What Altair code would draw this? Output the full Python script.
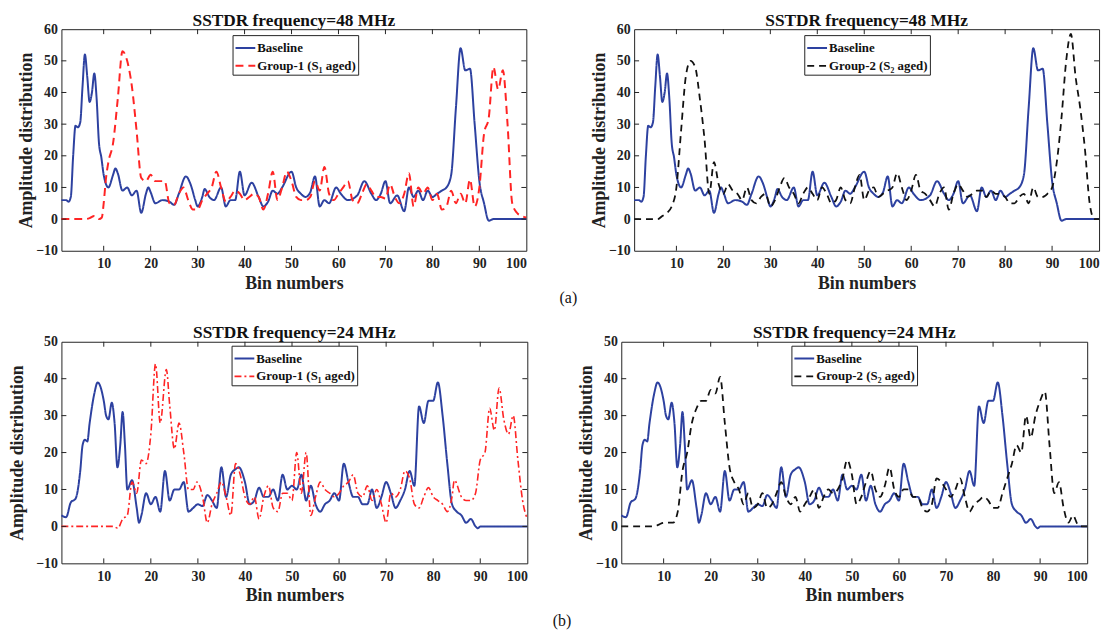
import altair as alt
import pandas as pd

FONT = "Liberation Serif, Times New Roman, serif"
BLUE = "#2d41a0"
RED = "#ff2424"
BLACK = "#111111"

# ---------------- data (bin, amplitude) ----------------
base_48 = [(1, 6), (2, 6), (2.5, 5.5), (3, 7), (3.5, 20), (4, 29.5), (4.5, 29), (5, 30.5), (5.5, 42),
           (6, 52), (6.5, 45), (7, 37), (7.5, 40), (8, 46), (8.5, 38), (9, 24), (9.5, 19.5), (10, 14),
           (11, 10), (12, 14), (12.5, 16), (13, 14.5), (14, 9), (15, 10), (16, 7.5), (17, 9), (18, 2),
           (19, 8), (19.5, 10), (20, 8.5), (21, 5), (22.5, 6), (24, 5.5), (25, 4.5), (26, 8), (27.5, 13.5),
           (28.5, 11), (29.5, 6), (30, 4), (31, 7), (31.5, 9.5), (32.5, 7), (33.5, 6), (35, 10), (36, 4),
           (37, 6), (38, 6), (39, 15), (40, 7.5), (41.5, 11.5), (43, 7), (44, 4), (45, 5.5), (46, 9),
           (47, 8), (48, 10), (50, 15), (51, 10), (52, 8), (53, 7), (54, 8.5), (55, 13.5), (56, 4),
           (57, 6), (58, 5), (59.5, 10), (60.5, 8), (62, 6), (64, 7.5), (65.5, 12), (67, 8), (68, 6),
           (69, 8), (70, 12), (71, 5), (72.5, 7.5), (74, 2.5), (75, 10), (76, 7), (77, 9), (78, 6),
           (79, 9), (80, 7), (81, 8), (82, 9), (83, 10), (84, 14), (85, 35), (86, 54), (87, 47),
           (88, 47.5), (89, 30), (90, 12), (91, 5), (92, -0.5), (93, 0), (100, 0)]

group1_48 = [(1, 0), (6, 0), (7, 0.3), (8, 1), (9, 0), (9.6, 0.5), (10, 5), (10.5, 13), (11, 18), (12, 24),
             (13, 38), (14, 53), (15, 50), (16, 42), (17, 28), (18, 13), (19, 12), (20, 14), (21, 12),
             (22, 12), (23, 12), (24, 5), (25, 4.5), (26, 8), (27, 10), (28, 6), (29, 3), (30, 3), (31, 6),
             (32, 8), (33, 10), (34, 15), (35, 10), (36, 5.5), (37, 7), (38, 9), (39, 8), (40, 6), (41, 7),
             (42, 8), (43, 7), (44, 3), (45, 8), (46, 15), (47, 6), (48, 10), (49, 15), (50, 12), (51, 7),
             (52, 6), (53, 6), (54, 7), (55, 12), (56, 9), (57, 16.5), (58, 8), (59, 6), (60, 8), (61, 10),
             (62, 12), (63, 6), (64, 5), (65, 8), (66, 11), (67, 9), (68, 7), (69, 7), (70, 6.5), (71, 11),
             (72, 7), (73, 5), (74, 8), (75, 14.5), (76, 4), (77, 10), (78, 8), (79, 10), (80, 6), (81, 8),
             (82, 3), (83, 4), (84, 9), (85, 5), (86, 8), (87, 5), (88, 12.5), (89, 4), (90, 10), (91, 27),
             (92, 32), (93, 48), (94, 41), (95, 47), (96, 30), (97, 5), (98, 2), (99, 1), (100, 0.5)]

group2_48 = [(1, 0), (6, 0), (7, 1), (8, 2), (9, 4), (10, 10), (11, 28), (12, 45), (13, 50), (14, 48),
             (15, 38), (16, 25), (17, 8), (18, 18), (19, 11), (20, 8), (21, 11), (22, 9), (23, 8), (24, 6),
             (25, 10), (26, 6), (27, 5), (28, 7), (29, 8), (30, 4), (31, 6), (32, 10), (33, 13), (34, 10),
             (35, 8), (36, 5), (37, 8), (38, 10), (39, 8), (40, 6), (41, 10), (42, 8), (43, 5), (44, 6),
             (45, 10), (46, 6), (47, 5), (48, 10), (49, 14), (50, 6), (51, 9), (52, 10), (53, 7), (54, 8),
             (55, 9), (56, 10), (57, 14.5), (58, 10), (59, 6), (60, 9), (61, 14), (62, 9), (63, 8), (64, 6),
             (65, 4), (66, 8), (67, 10), (68, 3), (69, 8), (70, 11), (71, 9), (72, 7), (73, 8), (74, 9),
             (75, 9), (76, 7), (77, 9), (78, 8), (79, 8), (80, 7), (81, 5), (82, 5), (83, 7), (84, 8),
             (85, 5), (86, 10), (87, 7), (88, 7), (89, 8), (90, 10), (91, 18), (92, 32), (93, 50),
             (94, 58.5), (95, 45), (96, 35), (97, 22), (98, 5), (99, 0), (100, 0)]

base_24 = [(1, 3), (2, 2.5), (3, 6.5), (4, 7.5), (5, 15), (5.5, 22), (6, 23.5), (6.5, 23), (7, 28), (8, 36),
           (8.7, 39), (10, 34), (10.5, 30), (11, 29), (11.7, 33.5), (12.3, 28), (12.9, 16), (13.5, 22),
           (14, 31), (14.5, 22), (15, 10), (16, 12.5), (17, 5), (17.5, 1), (18, 3), (19, 9), (20, 6),
           (21, 8), (22, 4), (23, 15), (24, 7), (25, 10), (26, 10), (27, 12), (28, 4), (29, 5), (30, 6),
           (31, 5.5), (32, 8.5), (33, 7), (34, 5), (35, 16), (36, 8), (37, 14), (38, 15.5), (38.7, 16),
           (40, 12), (41, 6), (42, 7), (43, 10.5), (44, 8), (45, 8), (46, 10), (47, 7), (48, 14), (49, 10),
           (50, 11), (51, 10), (52, 14), (53, 7), (54, 11), (55, 6), (56, 4), (57, 6), (58, 7), (59, 9),
           (60, 7), (61, 17), (62, 12), (63, 8), (64, 8), (65, 6), (66, 6), (67, 10), (68, 5), (69, 8),
           (70, 12), (71, 9), (72, 5), (73, 7), (74, 10), (75, 15), (76, 11), (77, 32.5), (78, 28),
           (79, 34), (80, 34), (81, 39), (82, 30), (83, 17), (84, 6), (85, 4), (86, 3), (87, 1), (88, 2),
           (89, 0), (89.5, -0.5), (90, 0), (100, 0)]

group1_24 = [(1, 0), (12, 0), (13, -0.5), (14, 2), (15, 3), (16, 12), (17, 9), (18, 18), (19, 17), (20, 25),
             (21, 44), (22, 28), (23.3, 42.5), (24, 33), (25, 21), (26, 28), (27, 20), (28, 10), (29, 10),
             (29.8, 12), (31, 8), (32, 1), (33, 6), (34, 9), (35, 12), (36, 8), (37, 3), (38, 17), (39, 14),
             (40, 8), (41, 6), (42, 8), (43, 2), (44, 8), (45, 11), (46, 5), (47, 4), (48, 9), (49, 9),
             (50, 7), (51, 20), (52, 9), (53, 20), (54, 3), (55, 8), (56, 12), (57, 10), (58, 9), (59, 8),
             (60, 9), (61, 11), (62, 12), (63, 14), (64, 9), (65, 8), (66, 11), (67, 7), (68, 10), (69, 6),
             (70, 1), (71, 9), (72, 8), (73, 10), (74, 15), (75, 13), (76, 6), (77, 5), (78, 8), (79, 10.5),
             (80, 8), (81, 7), (82, 6), (83, 4), (84, 8), (84.5, 12.5), (86, 8), (87, 7), (88, 7), (89, 9),
             (90, 18), (91, 20), (92, 32), (93, 26), (94, 37.5), (95, 29), (96, 25), (97, 30), (98, 18),
             (99, 7), (100, 2)]

group2_24 = [(1, 0), (8, 0), (9, 0.5), (10, 1), (11, 1), (12, 1), (13, 4), (14, 15), (15, 20), (16, 28),
             (17, 32), (18, 34), (19, 34), (20, 37), (21, 36), (22, 40.5), (23, 28), (24, 16), (25, 12),
             (26, 10), (27, 6), (28, 9), (29, 5), (30, 6), (31, 9), (32, 5), (33, 6), (34, 9), (35, 12),
             (36, 8), (37, 6), (38, 8), (39, 4), (40, 6), (41, 8), (42, 10), (43, 5), (44, 8), (45, 10),
             (46, 9), (47, 10), (48, 13), (49, 18), (50, 14), (51, 6), (52, 8), (53, 12), (54, 15), (55, 10),
             (56, 8), (57, 11), (58, 16), (59, 10), (60, 8), (61, 10), (62, 10), (63, 8), (64, 8), (65, 5),
             (66, 4), (67, 6), (68, 13), (69, 12), (70, 10), (71, 8), (72, 10), (73, 13), (74, 8), (75, 4),
             (76, 6), (77, 7), (78, 8), (79, 7), (80, 5), (81, 5), (82, 9), (83, 13), (84, 17), (85, 22),
             (86, 20), (87, 30), (88, 24), (89, 30), (90, 34), (91, 36.5), (92, 22), (93, 9), (94, 12),
             (95, 5), (96, 1), (97, 3), (98, 0.5), (99, 0), (100, 0)]

x_ticks = [10, 20, 30, 40, 50, 60, 70, 80, 90, 100]
G1 = "Group-1 (S\u2081 aged)"
G2 = "Group-2 (S\u2082 aged)"

H = 224


def to_df(pairs, name):
    return pd.DataFrame({"bin": [p[0] for p in pairs], "amp": [p[1] for p in pairs], "series": name})


def panel(title, base, other, other_name, other_color, other_dash, other_width, ymax, width,
          legend_x, legend_y, ytitle_pad):
    df = pd.concat([to_df(base, "Baseline"), to_df(other, other_name)], ignore_index=True)
    domain = ["Baseline", other_name]
    y_ticks = list(range(-10, ymax + 1, 10))
    xs = alt.Scale(domain=[1, 100], nice=False, zero=False)
    ys = alt.Scale(domain=[-10, ymax], nice=False, zero=False)
    x_axis = alt.Axis(values=x_ticks, title="Bin numbers", labelPadding=6, titlePadding=4)
    y_axis = alt.Axis(values=y_ticks, title="Amplitude distribution", labelPadding=4,
                      titlePadding=ytitle_pad)
    legend = alt.Legend(orient="none", legendX=legend_x, legendY=legend_y, direction="vertical",
                        symbolType="stroke", symbolSize=400, symbolStrokeWidth=2,
                        labelFont=FONT, labelFontSize=13, labelFontWeight="bold", labelColor="#111",
                        fillColor="white", strokeColor="#222", padding=2, rowPadding=0,
                        labelOffset=1, offset=0)
    lines = alt.Chart(df).mark_line(interpolate="monotone").encode(
        x=alt.X("bin:Q", scale=xs, axis=x_axis),
        y=alt.Y("amp:Q", scale=ys, axis=y_axis),
        color=alt.Color("series:N", scale=alt.Scale(domain=domain, range=[BLUE, other_color]),
                        legend=legend, title=None),
        strokeDash=alt.StrokeDash("series:N", scale=alt.Scale(domain=domain, range=[[1, 0], other_dash]),
                                  legend=legend, title=None),
        strokeWidth=alt.StrokeWidth("series:N", scale=alt.Scale(domain=domain, range=[2, other_width]),
                                    legend=None),
    )
    inner_x = [t for t in x_ticks if t < 100]
    inner_y = [t for t in y_ticks if -10 < t < ymax]
    tx = pd.DataFrame({"bin": inner_x})
    ty = pd.DataFrame({"amp": inner_y})
    tick_b = alt.Chart(tx).mark_rule(color="#222", strokeWidth=1).encode(
        x=alt.X("bin:Q", scale=xs, axis=x_axis), y=alt.value(H), y2=alt.value(H - 5))
    tick_t = alt.Chart(tx).mark_rule(color="#222", strokeWidth=1).encode(
        x=alt.X("bin:Q", scale=xs, axis=x_axis), y=alt.value(0), y2=alt.value(5))
    tick_l = alt.Chart(ty).mark_rule(color="#222", strokeWidth=1).encode(
        y=alt.Y("amp:Q", scale=ys, axis=y_axis), x=alt.value(0), x2=alt.value(5))
    tick_r = alt.Chart(ty).mark_rule(color="#222", strokeWidth=1).encode(
        y=alt.Y("amp:Q", scale=ys, axis=y_axis), x=alt.value(width - 5), x2=alt.value(width))
    return alt.layer(lines, tick_b, tick_t, tick_l, tick_r).properties(
        width=width, height=H,
        title=alt.TitleParams(title, font=FONT, fontSize=17.5, fontWeight="bold", color="#111", offset=-7),
    )


p1 = panel("SSTDR frequency=48 MHz", base_48, group1_48, G1, RED, [8, 5], 2, 60, 470, 173, 6, 0)
p2 = panel("SSTDR frequency=48 MHz", base_48, group2_48, G2, BLACK, [7, 5], 1.8, 60, 470, 172, 6, 0)
p3 = panel("SSTDR frequency=24 MHz", base_24, group1_24, G1, RED, [7, 3, 2, 3], 1.6, 50, 471, 172, 4, 9)
p4 = panel("SSTDR frequency=24 MHz", base_24, group2_24, G2, BLACK, [7, 5], 1.8, 50, 471, 172, 4, 0)

row_title = dict(orient="bottom", anchor="middle", font=FONT, fontSize=16, fontWeight="normal",
                 color="#111")

top = alt.hconcat(p1, p2, spacing=59,
                  title=alt.TitleParams("(a)", offset=-3, dx=8, **row_title)).resolve_scale(
    x="independent", y="independent", color="independent", strokeDash="independent",
    strokeWidth="independent")
bottom = alt.hconcat(p3, p4, spacing=45,
                     title=alt.TitleParams("(b)", offset=8, dx=12, **row_title)).resolve_scale(
    x="independent", y="independent", color="independent", strokeDash="independent",
    strokeWidth="independent")

chart = alt.vconcat(top, bottom, spacing=18).resolve_scale(
    color="independent", strokeDash="independent", strokeWidth="independent"
).properties(padding=0).configure_axis(
    labelFont=FONT, labelFontSize=14, labelFontWeight="bold", labelColor="#222",
    titleFont=FONT, titleFontSize=18, titleFontWeight="bold", titleColor="#222",
    ticks=False, domain=False, grid=False,
).configure_view(stroke="#222", strokeWidth=1)

chart.save("out.html", embed_options={"renderer": "svg", "actions": False})
